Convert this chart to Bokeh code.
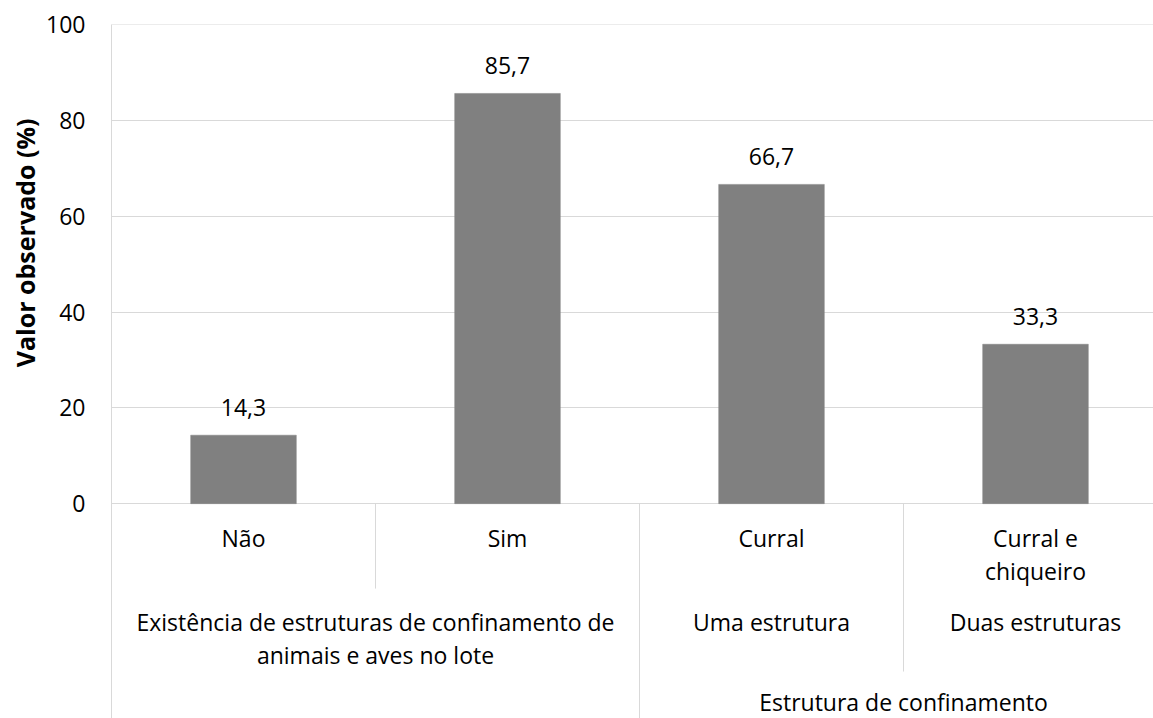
import numpy as np
from bokeh.plotting import figure
from bokeh.models import Range1d, FixedTicker, ColumnDataSource, Title
from bokeh.core.properties import value
from bokeh.embed import file_html
from bokeh.resources import INLINE

# ---------------- data ----------------
categories = ["Não", "Sim", "Curral", "Curral e\nchiqueiro"]
values = [14.3, 85.7, 66.7, 33.3]
value_labels = ["14,3", "85,7", "66,7", "33,3"]
level2_groups = ["Existência de estruturas de confinamento de\nanimais e aves no lote",
                 "Uma estrutura", "Duas estruturas"]
level2_spans = [(0, 2), (2, 3), (3, 4)]
level3_groups = ["", "Estrutura de confinamento"]
level3_spans = [(0, 2), (2, 4)]
y_ticks = [0, 20, 40, 60, 80, 100]
y_title = "Valor observado (%)"

# ---------------- layout ----------------
W, H = 1153, 718
FRAME_LEFT, FRAME_TOP = 111, 24
frame_w, frame_h = W - FRAME_LEFT, H - FRAME_TOP
CAT_PX = 264           # width of one category in pixels
ZERO_PX = 479          # distance from frame top to value 0
px_per_unit = ZERO_PX / 100.0
x_end = frame_w / CAT_PX
y_start = -(frame_h - ZERO_PX) / px_per_unit

FONT = value("Open Sans")
FSIZE = value("23px")
GRID = "#d9d9d9"
LINE_PITCH = 33
L1_OFF, L2_OFF, L3_OFF = 34, 118, 198
L1_DEPTH, L2_DEPTH = 85, 168

p = figure(width=W, height=H, output_backend="svg", toolbar_location=None,
           x_range=Range1d(0, x_end), y_range=Range1d(y_start, 100.1),
           x_axis_location=None, tools="")
p.min_border_left = FRAME_LEFT
p.min_border_top = FRAME_TOP
p.min_border_right = 0
p.min_border_bottom = 0
p.outline_line_color = None
p.background_fill_color = "white"
p.border_fill_color = "white"

# y axis
p.yaxis.ticker = FixedTicker(ticks=y_ticks)
p.yaxis.axis_line_color = GRID
p.yaxis.major_tick_line_color = None
p.yaxis.minor_tick_line_color = None
p.yaxis.major_tick_out = 0
p.yaxis.major_label_standoff = 26
p.yaxis.major_label_text_font = "Open Sans"
p.yaxis.major_label_text_font_size = "23px"
p.yaxis.major_label_text_color = "#000000"

p.ygrid.ticker = FixedTicker(ticks=y_ticks)
p.ygrid.grid_line_color = GRID
p.ygrid.grid_line_width = 1
p.xgrid.visible = False

# y title, placed in the left panel, aligned from the top of the frame
p.add_layout(Title(text=y_title, align="right", offset=94,
                   text_font="Open Sans", text_font_size="25px",
                   text_font_style="bold", text_color="#000000",
                   standoff=4), "left")

# bars
n = len(categories)
xc = np.arange(n) + 0.5
src = ColumnDataSource(dict(x=xc, top=values, lab=value_labels))
p.vbar(x="x", top="top", width=0.4, bottom=0, source=src,
       fill_color="#808080", line_color="#808080", line_width=0.5)
p.text(x="x", y="top", text="lab", source=src, text_align="center",
       text_baseline="alphabetic", y_offset=-28, text_font=FONT,
       text_font_size=FSIZE, text_color="#000000")

# category axis labels (three levels)
tx, tt, toff = [], [], []
def add_label(xpos, label, base_off):
    for k, line in enumerate(label.split("\n")):
        if line:
            tx.append(xpos)
            tt.append(line)
            toff.append(base_off + k * LINE_PITCH)

for i, c in enumerate(categories):
    add_label(i + 0.5, c, L1_OFF)
for g, (a, b) in zip(level2_groups, level2_spans):
    add_label((a + b) / 2.0, g, L2_OFF)
for g, (a, b) in zip(level3_groups, level3_spans):
    add_label((a + b) / 2.0, g, L3_OFF)

lsrc = ColumnDataSource(dict(x=tx, y=[0] * len(tx), text=tt, off=toff))
p.text(x="x", y="y", text="text", y_offset="off", source=lsrc,
       text_align="center", text_baseline="alphabetic", text_font=FONT,
       text_font_size=FSIZE, text_color="#000000")

# separators between categories
l2_bounds = {b for (_, b) in level2_spans}
l3_bounds = {b for (_, b) in level3_spans}
sx, sy1 = [], []
for bnd in range(1, n):
    if bnd in l3_bounds:
        depth = y_start
    elif bnd in l2_bounds:
        depth = -L2_DEPTH / px_per_unit
    else:
        depth = -L1_DEPTH / px_per_unit
    sx.append(bnd)
    sy1.append(depth)
p.segment(x0=sx, y0=[0] * len(sx), x1=sx, y1=sy1, line_color=GRID, line_width=1)

open("out.html", "w").write(file_html(p, INLINE))
